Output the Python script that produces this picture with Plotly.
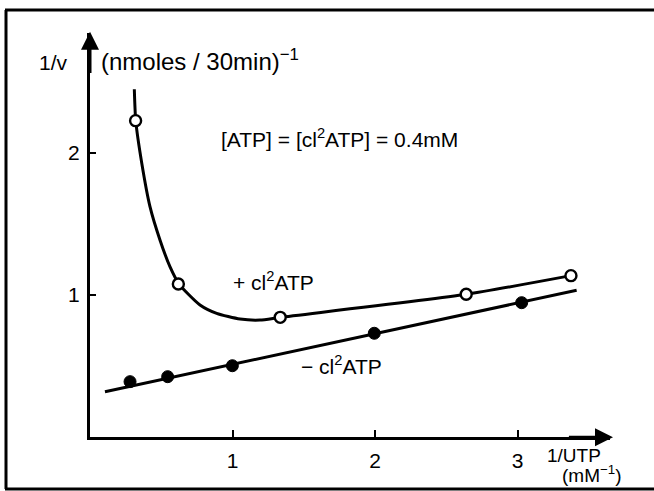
import plotly.graph_objects as go

W, H = 654, 491

# --- data ---
# +cl2ATP (open circles)
plus_x = [0.32, 0.62, 1.335, 2.64, 3.375]
plus_y = [2.225, 1.077, 0.843, 1.005, 1.136]
# smooth fitted curve through +cl2ATP data
plus_curve_x = [0.311, 0.321, 0.363, 0.421, 0.491, 0.561, 0.625, 0.772, 0.889, 1.053, 1.193, 1.335, 2.64, 3.375]
plus_curve_y = [2.446, 2.225, 1.928, 1.621, 1.387, 1.199, 1.077, 0.930, 0.871, 0.831, 0.824, 0.843, 1.005, 1.136]
# -cl2ATP (filled circles)
minus_x = [0.281, 0.545, 0.999, 1.995, 3.029]
minus_y = [0.391, 0.426, 0.503, 0.731, 0.946]
# straight regression line for -cl2ATP
minus_line_x = [0.105, 3.415]
minus_line_y = [0.320, 1.033]

x_ticks = [1, 2, 3]
y_ticks = [1, 2]

FONT = "Liberation Sans"
FS = 21

def px(x):
    return x / W

def py(y):
    return 1 - y / H

fig = go.Figure()
fig.add_trace(go.Scatter(x=plus_curve_x, y=plus_curve_y, mode="lines",
                         line=dict(color="black", width=3, shape="spline", smoothing=0.6),
                         hoverinfo="skip", showlegend=False))
fig.add_trace(go.Scatter(x=minus_line_x, y=minus_line_y, mode="lines",
                         line=dict(color="black", width=3),
                         hoverinfo="skip", showlegend=False))
fig.add_trace(go.Scatter(x=plus_x, y=plus_y, mode="markers",
                         marker=dict(symbol="circle", size=11, color="white",
                                     line=dict(color="black", width=2.4)),
                         showlegend=False, cliponaxis=False))
fig.add_trace(go.Scatter(x=minus_x, y=minus_y, mode="markers",
                         marker=dict(symbol="circle", size=12, color="black",
                                     line=dict(color="black", width=1)),
                         showlegend=False, cliponaxis=False))

annotations = []
def txt(s, x, y, xanchor="left", size=FS):
    annotations.append(dict(text=s, x=px(x), y=py(y), xref="paper", yref="paper",
                            xanchor=xanchor, yanchor="middle", showarrow=False,
                            font=dict(family=FONT, size=size, color="black")))

txt("1/v", 37, 62)
txt("(nmoles / 30min)<sup>−1</sup>", 99, 60, size=24)
txt("[ATP] = [cl<sup>2</sup>ATP] = 0.4mM", 219, 138)
txt("+ cl<sup>2</sup>ATP", 231, 281)
txt("− cl<sup>2</sup>ATP", 299, 365)
txt("1/UTP", 545, 455, size=19)
txt("(mM<sup>−1</sup>)", 560, 474, size=19)

# axis arrowheads
annotations.append(dict(x=0, y=2.85, ax=0, ay=2.55, xref="x", yref="y", axref="x", ayref="y",
                        text="", showarrow=True, arrowhead=2, arrowsize=1.2, arrowwidth=3,
                        arrowcolor="black"))
annotations.append(dict(x=3.67, y=0, ax=3.35, ay=0, xref="x", yref="y", axref="x", ayref="y",
                        text="", showarrow=True, arrowhead=2, arrowsize=1.2, arrowwidth=3,
                        arrowcolor="black"))

# frame (top, left, bottom)
shapes = [
    dict(type="line", xref="paper", yref="paper", x0=px(5), x1=1.0, y0=py(10), y1=py(10),
         line=dict(color="black", width=3)),
    dict(type="line", xref="paper", yref="paper", x0=px(6), x1=px(6), y0=py(10), y1=py(489),
         line=dict(color="black", width=3)),
    dict(type="line", xref="paper", yref="paper", x0=px(5), x1=1.0, y0=py(489), y1=py(489),
         line=dict(color="black", width=3)),
]

fig.update_layout(
    width=W, height=H, margin=dict(l=0, r=0, t=0, b=0),
    paper_bgcolor="white", plot_bgcolor="white",
    annotations=annotations, shapes=shapes,
    font=dict(family=FONT, size=FS, color="black"),
    xaxis=dict(domain=[px(90), px(610)], range=[0, 3.649], showgrid=False, zeroline=False,
               showline=True, linecolor="black", linewidth=3,
               tickvals=x_ticks, ticktext=[str(v) for v in x_ticks],
               ticks="inside", ticklen=7, tickwidth=2, tickcolor="black",
               ticklabelstandoff=2, tickfont=dict(family=FONT, size=FS)),
    yaxis=dict(domain=[1 - 437.3 / H, 1 - 33 / H], range=[0, 2.841], showgrid=False, zeroline=False,
               showline=True, linecolor="black", linewidth=3,
               tickvals=y_ticks, ticktext=[str(v) for v in y_ticks],
               ticks="inside", ticklen=6, tickwidth=2, tickcolor="black",
               ticklabelstandoff=3, tickfont=dict(family=FONT, size=FS)),
)

fig.write_html("out.html", config={"displayModeBar": False},
               post_script="document.body.style.margin='0';document.body.style.padding='0';")
